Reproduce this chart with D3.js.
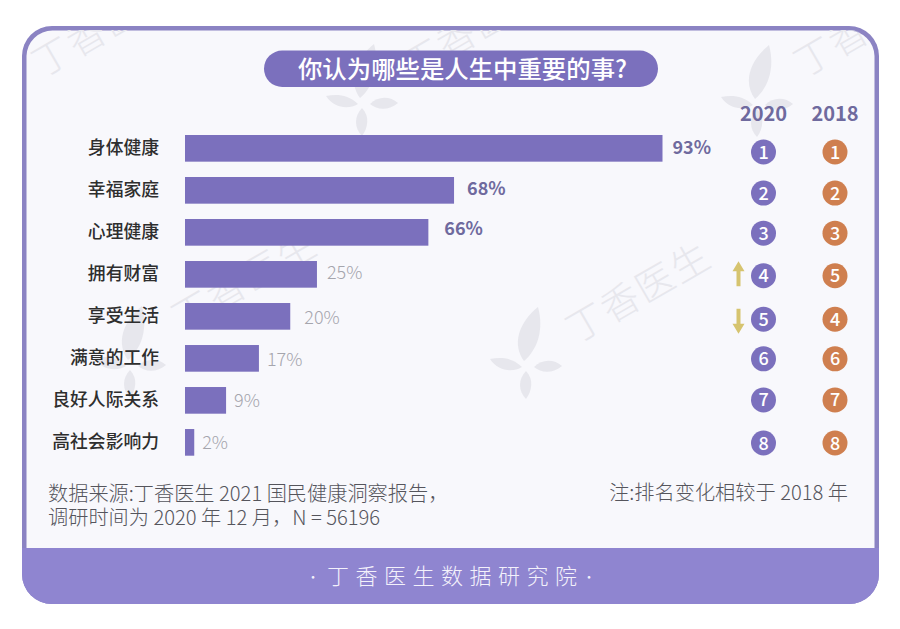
<!DOCTYPE html>
<html>
<head>
<meta charset="utf-8">
<script src="https://cdn.jsdelivr.net/npm/d3@7"></script>
<style>
  html, body { margin: 0; padding: 0; background: #fff; }
  svg { display: block; }
  text { font-family: "Noto Sans CJK SC", "Noto Sans", sans-serif; }
</style>
</head>
<body>
<div id="chart"></div>
<script>
//////////////////////////////////////////////
// Data //
const categories = ["身体健康", "幸福家庭", "心理健康", "拥有财富", "享受生活", "满意的工作", "良好人际关系", "高社会影响力"];
const percentLabels = [93, 68, 66, 25, 20, 17, 9, 2];
// bar lengths as drawn in the picture (the original bars are not proportional to their labels)
const barLengths = [93, 52.4, 47.4, 25.7, 20.5, 14.4, 8, 1.8];
const rank2020 = [1, 2, 3, 4, 5, 6, 7, 8];
const rank2018 = [1, 2, 3, 5, 4, 6, 7, 8];
const yearLabels = ["2020", "2018"];
const rankChange = [0, 0, 0, 1, -1, 0, 0, 0];

const titleText = "你认为哪些是人生中重要的事?";
const sourceLines = ["数据来源:丁香医生 2021 国民健康洞察报告，", "调研时间为 2020 年 12 月，N = 56196"];
const noteText = "注:排名变化相较于 2018 年";
const footerText = "丁香医生数据研究院";

//////////////////////////////////////////////
// Colours //
const purple = "#7b70bd";
const frameColor = "#8b83c3";
const footerColor = "#8f85d0";
const orange = "#cf7f4f";
const arrowColor = "#d6c46f";
const markColor = "#e7e7ed";

const width = 900, height = 629;

const svg = d3.select("#chart").append("svg")
  .attr("width", width)
  .attr("height", height);

svg.append("defs").append("clipPath").attr("id", "card")
  .append("rect")
  .attr("x", 26).attr("y", 30).attr("width", 849).attr("height", 518)
  .attr("rx", 26);

// Frame and footer band //
svg.append("rect")
  .attr("x", 22).attr("y", 26).attr("width", 857).attr("height", 578)
  .attr("rx", 30)
  .attr("fill", frameColor);
svg.append("path")
  .attr("d", "M22,548H879V574A30,30 0 0 1 849,604H52A30,30 0 0 1 22,574Z")
  .attr("fill", footerColor);
svg.append("path")
  .attr("d", "M26.5,548V56A26,26 0 0 1 52.5,30.5H848.5A26,26 0 0 1 874.5,56V548Z")
  .attr("fill", "#f8f8fc");

// Watermarks //
const marks = svg.append("g").attr("clip-path", "url(#card)");

function leafMark(x, y, s) {
  const g = marks.append("g")
    .attr("transform", `translate(${x},${y}) scale(${s})`)
    .attr("fill", markColor);
  g.append("path").attr("d", "M-2,-6C-14,-22 -8,-44 12,-60C18,-38 12,-18 -2,-6Z");
  g.append("path").attr("d", "M-4,0C-14,-10 -26,-10 -36,-8C-28,4 -14,6 -4,0Z");
  g.append("path").attr("d", "M8,0C16,-8 28,-8 36,-1C28,6 16,7 8,0Z");
  g.append("path").attr("d", "M0,4C-8,12 -8,24 0,32C6,24 8,12 0,4Z");
}
leafMark(362, 104, 1);
leafMark(526, 367, 1);
leafMark(757, 105, 1);
leafMark(130, 366, 1);

function wordMark(x, y) {
  marks.append("text")
    .attr("transform", `translate(${x},${y}) rotate(-30)`)
    .attr("font-size", 38)
    .attr("font-weight", 300)
    .attr("letter-spacing", 2)
    .attr("fill", markColor)
    .text("丁香医生");
}
wordMark(42, 78);
wordMark(412, 80);
wordMark(576, 344);
wordMark(182, 332);
wordMark(804, 78);

//////////////////////////////////////////////
// Scales //
const x = d3.scaleLinear().domain([0, 93]).range([185, 662.5]);
const y = d3.scaleBand().domain(categories).range([135, 455.7]).paddingInner(0.365).paddingOuter(0);
const rankY = d3.scalePoint().domain(rank2020).range([152, 443]);
const yearX = d3.scalePoint().domain(yearLabels).range([763.5, 835]);

// small hand nudges, the original layout is not quite regular
const labelDx = [0, 3, 6, 0, 4, -2, -2, -2];
const labelDy = [0, -1, -3, -1, 2, 2, 1, 1];
const rankDy = [0, -0.5, -2, -1, 1, -1, -1.5, 0];

// Title //
svg.append("rect")
  .attr("x", 264).attr("y", 50.5).attr("width", 394).attr("height", 36.5)
  .attr("rx", 18.25)
  .attr("fill", purple);
svg.append("text")
  .attr("x", 462.5).attr("y", 77.5)
  .attr("text-anchor", "middle")
  .attr("font-size", 24.4)
  .attr("font-weight", 500)
  .attr("fill", "#fff")
  .text(titleText);

// Bars //
const rows = categories.map((c, i) => ({ name: c, len: barLengths[i], pct: percentLabels[i], i: i }));

svg.selectAll(".bar").data(rows).enter().append("rect")
  .attr("class", "bar")
  .attr("x", x(0))
  .attr("y", d => y(d.name))
  .attr("width", d => x(d.len) - x(0))
  .attr("height", y.bandwidth())
  .attr("fill", purple);

svg.selectAll(".cat").data(rows).enter().append("text")
  .attr("class", "cat")
  .attr("x", 159)
  .attr("y", d => y(d.name) + y.bandwidth() / 2 + 5.5)
  .attr("text-anchor", "end")
  .attr("font-size", 17.8)
  .attr("font-weight", 500)
  .attr("fill", "#2e2e2e")
  .text(d => d.name);

svg.selectAll(".pct").data(rows).enter().append("text")
  .attr("class", "pct")
  .attr("x", d => x(d.len) + 10 + labelDx[d.i])
  .attr("y", d => y(d.name) + y.bandwidth() / 2 + 6 + labelDy[d.i])
  .attr("font-size", 18)
  .attr("font-weight", d => d.pct > 50 ? 700 : 300)
  .attr("fill", d => d.pct > 50 ? "#6f6a9e" : "#a5a5ad")
  .text(d => d.pct + "%");

// Rank columns //
svg.selectAll(".year").data(yearLabels).enter().append("text")
  .attr("class", "year")
  .attr("x", d => yearX(d))
  .attr("y", 121)
  .attr("text-anchor", "middle")
  .attr("font-size", 20)
  .attr("font-weight", 700)
  .attr("fill", "#6f6a9e")
  .text(d => d);

function rankColumn(year, ranks, color) {
  const g = svg.selectAll(".r" + year).data(ranks).enter().append("g")
    .attr("class", "r" + year)
    .attr("transform", (d, i) => `translate(${yearX(year)},${rankY(rank2020[i]) + rankDy[i]})`);
  g.append("circle").attr("r", 12.5).attr("fill", color);
  g.append("text")
    .attr("y", 6.5)
    .attr("text-anchor", "middle")
    .attr("font-size", 18)
    .attr("font-weight", 500)
    .attr("fill", "#fff")
    .text(d => d);
}
rankColumn("2020", rank2020, purple);
rankColumn("2018", rank2018, orange);

// Rank change arrows //
rankChange.forEach(function(dir, i){
  if (dir === 0) return;
  const g = svg.append("g")
    .attr("transform", `translate(738.5,${rankY(rank2020[i]) + rankDy[i] - 1.5 * dir}) scale(1,${dir > 0 ? 1 : -1})`)
    .attr("fill", arrowColor);
  g.append("path").attr("d", "M0,-13L6,-3H2V12H-2V-3H-6Z");
});

// Notes //
svg.selectAll(".source").data(sourceLines).enter().append("text")
  .attr("class", "source")
  .attr("x", 48)
  .attr("y", (d, i) => 501 + i * 24)
  .attr("font-size", 20.2)
  .attr("font-weight", 300)
  .attr("fill", "#55555c")
  .text(d => d);

svg.append("text")
  .attr("x", 848).attr("y", 500)
  .attr("text-anchor", "end")
  .attr("font-size", 20.2)
  .attr("font-weight", 300)
  .attr("fill", "#55555c")
  .text(noteText);

// Footer //
svg.append("text")
  .attr("x", 327).attr("y", 584)
  .attr("font-size", 22)
  .attr("font-weight", 300)
  .attr("letter-spacing", 6.5)
  .attr("fill", "#f3f1fb")
  .text(footerText);

svg.selectAll(".dot").data(["·", "·"]).enter().append("text")
  .attr("class", "dot")
  .attr("x", (d, i) => i === 0 ? 313 : 589)
  .attr("y", 582)
  .attr("text-anchor", "middle")
  .attr("font-size", 14)
  .attr("font-weight", 300)
  .attr("fill", "#f3f1fb")
  .text(d => d);
</script>
</body>
</html>
